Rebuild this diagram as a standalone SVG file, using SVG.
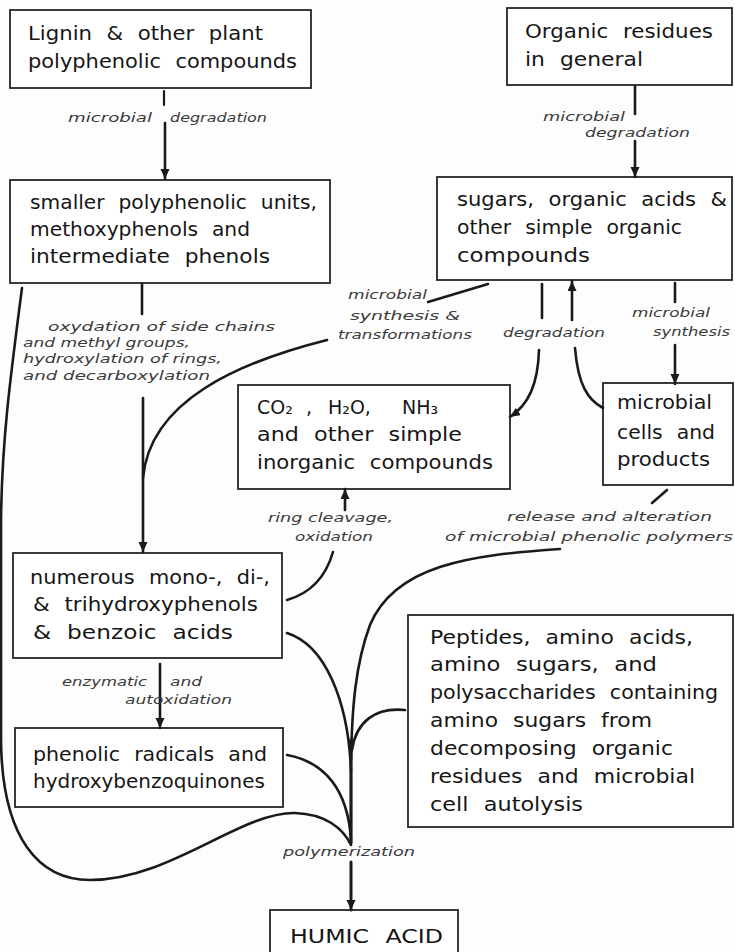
<svg xmlns="http://www.w3.org/2000/svg" width="735" height="952" viewBox="0 0 735 952">
<style>
  .bg{fill:#fdfdfd}
  .box rect{fill:#ffffff;stroke:#262626;stroke-width:1.8}
  .box text{font-family:"DejaVu Sans","Liberation Sans",sans-serif;font-size:19px;fill:#161616;word-spacing:7px}
  .lbl{font-family:"DejaVu Sans","Liberation Sans",sans-serif;font-size:12.5px;font-style:italic;fill:#3a3a3a}
  .c path,.c line{fill:none;stroke:#1a1a1a;stroke-width:2.6;stroke-linecap:round}
  .c .thin{stroke-width:2.2}
</style>
<defs>
  <marker id="ah" markerUnits="userSpaceOnUse" markerWidth="11" markerHeight="10" refX="10" refY="4.5" orient="auto">
    <path d="M0,0 L10,4.5 L0,9 z" fill="#1a1a1a"/>
  </marker>
</defs>
<rect class="bg" x="0" y="0" width="735" height="952"/>

<g id="n-lignin" class="box">
  <rect x="10" y="10" width="301" height="78"/>
  <text x="28" y="40" textLength="235" lengthAdjust="spacingAndGlyphs">Lignin &amp; other plant</text>
  <text x="28" y="68" textLength="269" lengthAdjust="spacingAndGlyphs">polyphenolic compounds</text>
</g>
<g id="n-smaller" class="box">
  <rect x="10" y="180" width="320" height="103"/>
  <text x="30" y="209" textLength="287" lengthAdjust="spacingAndGlyphs">smaller polyphenolic units,</text>
  <text x="30" y="236" textLength="220" lengthAdjust="spacingAndGlyphs">methoxyphenols and</text>
  <text x="30" y="263" textLength="240" lengthAdjust="spacingAndGlyphs">intermediate phenols</text>
</g>
<g id="n-organic" class="box">
  <rect x="507" y="8" width="225" height="77"/>
  <text x="525" y="38" textLength="188" lengthAdjust="spacingAndGlyphs">Organic residues</text>
  <text x="525" y="66" textLength="118" lengthAdjust="spacingAndGlyphs">in general</text>
</g>
<g id="n-sugars" class="box">
  <rect x="437" y="177" width="295" height="103"/>
  <text x="457" y="206" textLength="270" lengthAdjust="spacingAndGlyphs">sugars, organic acids &amp;</text>
  <text x="457" y="234" textLength="225" lengthAdjust="spacingAndGlyphs">other simple organic</text>
  <text x="457" y="262" textLength="133" lengthAdjust="spacingAndGlyphs">compounds</text>
</g>
<g id="n-inorganic" class="box">
  <rect x="238" y="385" width="272" height="104"/>
  <text y="414"><tspan x="257">CO₂ ,</tspan><tspan x="328">H₂O,</tspan><tspan x="402">NH₃</tspan></text>
  <text x="257" y="441" textLength="205" lengthAdjust="spacingAndGlyphs">and other simple</text>
  <text x="257" y="469" textLength="236" lengthAdjust="spacingAndGlyphs">inorganic compounds</text>
</g>
<g id="n-cells" class="box">
  <rect x="603" y="383" width="130" height="102"/>
  <text x="617" y="409" textLength="95" lengthAdjust="spacingAndGlyphs">microbial</text>
  <text x="617" y="439" textLength="98" lengthAdjust="spacingAndGlyphs">cells and</text>
  <text x="617" y="466" textLength="93" lengthAdjust="spacingAndGlyphs">products</text>
</g>
<g id="n-phenols" class="box">
  <rect x="13" y="553" width="269" height="105"/>
  <text x="30" y="584" textLength="240" lengthAdjust="spacingAndGlyphs">numerous mono-, di-,</text>
  <text x="33" y="611" textLength="225" lengthAdjust="spacingAndGlyphs">&amp; trihydroxyphenols</text>
  <text x="33" y="639" textLength="200" lengthAdjust="spacingAndGlyphs">&amp; benzoic acids</text>
</g>
<g id="n-radicals" class="box">
  <rect x="15" y="728" width="268" height="79"/>
  <text x="33" y="761" textLength="234" lengthAdjust="spacingAndGlyphs">phenolic radicals and</text>
  <text x="33" y="788" textLength="232" lengthAdjust="spacingAndGlyphs">hydroxybenzoquinones</text>
</g>
<g id="n-peptides" class="box">
  <rect x="408" y="615" width="325" height="212"/>
  <text x="430" y="644" textLength="263" lengthAdjust="spacingAndGlyphs">Peptides, amino acids,</text>
  <text x="430" y="671" textLength="227" lengthAdjust="spacingAndGlyphs">amino sugars, and</text>
  <text x="430" y="699" textLength="288" lengthAdjust="spacingAndGlyphs">polysaccharides containing</text>
  <text x="430" y="727" textLength="222" lengthAdjust="spacingAndGlyphs">amino sugars from</text>
  <text x="430" y="755" textLength="243" lengthAdjust="spacingAndGlyphs">decomposing organic</text>
  <text x="430" y="783" textLength="265" lengthAdjust="spacingAndGlyphs">residues and microbial</text>
  <text x="430" y="811" textLength="153" lengthAdjust="spacingAndGlyphs">cell autolysis</text>
</g>
<g id="n-humic" class="box">
  <rect x="270" y="910" width="188" height="60"/>
  <text x="290" y="943" textLength="153" lengthAdjust="spacingAndGlyphs">HUMIC ACID</text>
</g>

<g id="connectors" class="c">
  <line class="thin" x1="164" y1="91" x2="164" y2="105"/>
  <line x1="165" y1="123" x2="165" y2="179" marker-end="url(#ah)"/>
  <line x1="635" y1="86" x2="635" y2="114"/>
  <line x1="635" y1="141" x2="635" y2="177" marker-end="url(#ah)"/>
  <line x1="142" y1="284" x2="142" y2="314"/>
  <line x1="143" y1="398" x2="143" y2="552" marker-end="url(#ah)"/>
  <path d="M 327 340 C 240 362 150 400 143 478"/>
  <path d="M 488 284 L 428 302"/>
  <line x1="542" y1="284" x2="542" y2="318"/>
  <path d="M 539 350 C 538 385 528 405 510 417" marker-end="url(#ah)"/>
  <line x1="572" y1="320" x2="572" y2="281" marker-end="url(#ah)"/>
  <path d="M 575 348 C 578 385 588 400 603 408"/>
  <line x1="675" y1="283" x2="675" y2="302"/>
  <line x1="675" y1="345" x2="675" y2="384" marker-end="url(#ah)"/>
  <line x1="345" y1="510" x2="345" y2="489" marker-end="url(#ah)"/>
  <path d="M 333 552 Q 322 590 287 600"/>
  <path d="M 667 490 L 652 503"/>
  <path d="M 22 288 C 10 380 2 440 1 520 L 1 740 C 2 840 40 880 90 880 C 170 880 240 812 295 813 C 325 814 343 828 351 845"/>
  <path d="M 560 549 C 470 555 395 565 370 625 C 355 665 352 710 351 760"/>
  <path d="M 287 633 C 325 645 348 700 351 770"/>
  <path d="M 405 710 C 375 707 356 722 352 750"/>
  <path d="M 287 755 C 325 762 348 790 351 840"/>
  <line x1="351" y1="740" x2="351" y2="843" style="stroke-width:3.2"/>
  <line x1="351" y1="862" x2="351" y2="910" marker-end="url(#ah)" style="stroke-width:3"/>
  <line x1="160" y1="664" x2="160" y2="728" marker-end="url(#ah)"/>
</g>

<g id="labels">
  <text class="lbl" x="68" y="122" textLength="84" lengthAdjust="spacingAndGlyphs">microbial</text>
  <text class="lbl" x="170" y="122" textLength="97" lengthAdjust="spacingAndGlyphs">degradation</text>
  <text class="lbl" x="543" y="121" textLength="82" lengthAdjust="spacingAndGlyphs">microbial</text>
  <text class="lbl" x="585" y="137" textLength="105" lengthAdjust="spacingAndGlyphs">degradation</text>
  <text class="lbl" x="48" y="331" textLength="227" lengthAdjust="spacingAndGlyphs">oxydation of side chains</text>
  <text class="lbl" x="23" y="347" textLength="167" lengthAdjust="spacingAndGlyphs">and methyl groups,</text>
  <text class="lbl" x="23" y="363" textLength="199" lengthAdjust="spacingAndGlyphs">hydroxylation of rings,</text>
  <text class="lbl" x="23" y="380" textLength="187" lengthAdjust="spacingAndGlyphs">and decarboxylation</text>
  <text class="lbl" x="348" y="299" textLength="79" lengthAdjust="spacingAndGlyphs">microbial</text>
  <text class="lbl" x="350" y="320" textLength="110" lengthAdjust="spacingAndGlyphs">synthesis &amp;</text>
  <text class="lbl" x="338" y="339" textLength="134" lengthAdjust="spacingAndGlyphs">transformations</text>
  <text class="lbl" x="503" y="337" textLength="102" lengthAdjust="spacingAndGlyphs">degradation</text>
  <text class="lbl" x="632" y="317" textLength="78" lengthAdjust="spacingAndGlyphs">microbial</text>
  <text class="lbl" x="653" y="336" textLength="77" lengthAdjust="spacingAndGlyphs">synthesis</text>
  <text class="lbl" x="268" y="522" textLength="125" lengthAdjust="spacingAndGlyphs">ring cleavage,</text>
  <text class="lbl" x="295" y="541" textLength="78" lengthAdjust="spacingAndGlyphs">oxidation</text>
  <text class="lbl" x="507" y="521" textLength="205" lengthAdjust="spacingAndGlyphs">release and alteration</text>
  <text class="lbl" x="445" y="541" textLength="288" lengthAdjust="spacingAndGlyphs">of microbial phenolic polymers</text>
  <text class="lbl" x="62" y="686" textLength="85" lengthAdjust="spacingAndGlyphs">enzymatic</text>
  <text class="lbl" x="170" y="686" textLength="32" lengthAdjust="spacingAndGlyphs">and</text>
  <text class="lbl" x="125" y="704" textLength="107" lengthAdjust="spacingAndGlyphs">autoxidation</text>
  <text class="lbl" x="283" y="856" textLength="132" lengthAdjust="spacingAndGlyphs">polymerization</text>
</g>
</svg>
